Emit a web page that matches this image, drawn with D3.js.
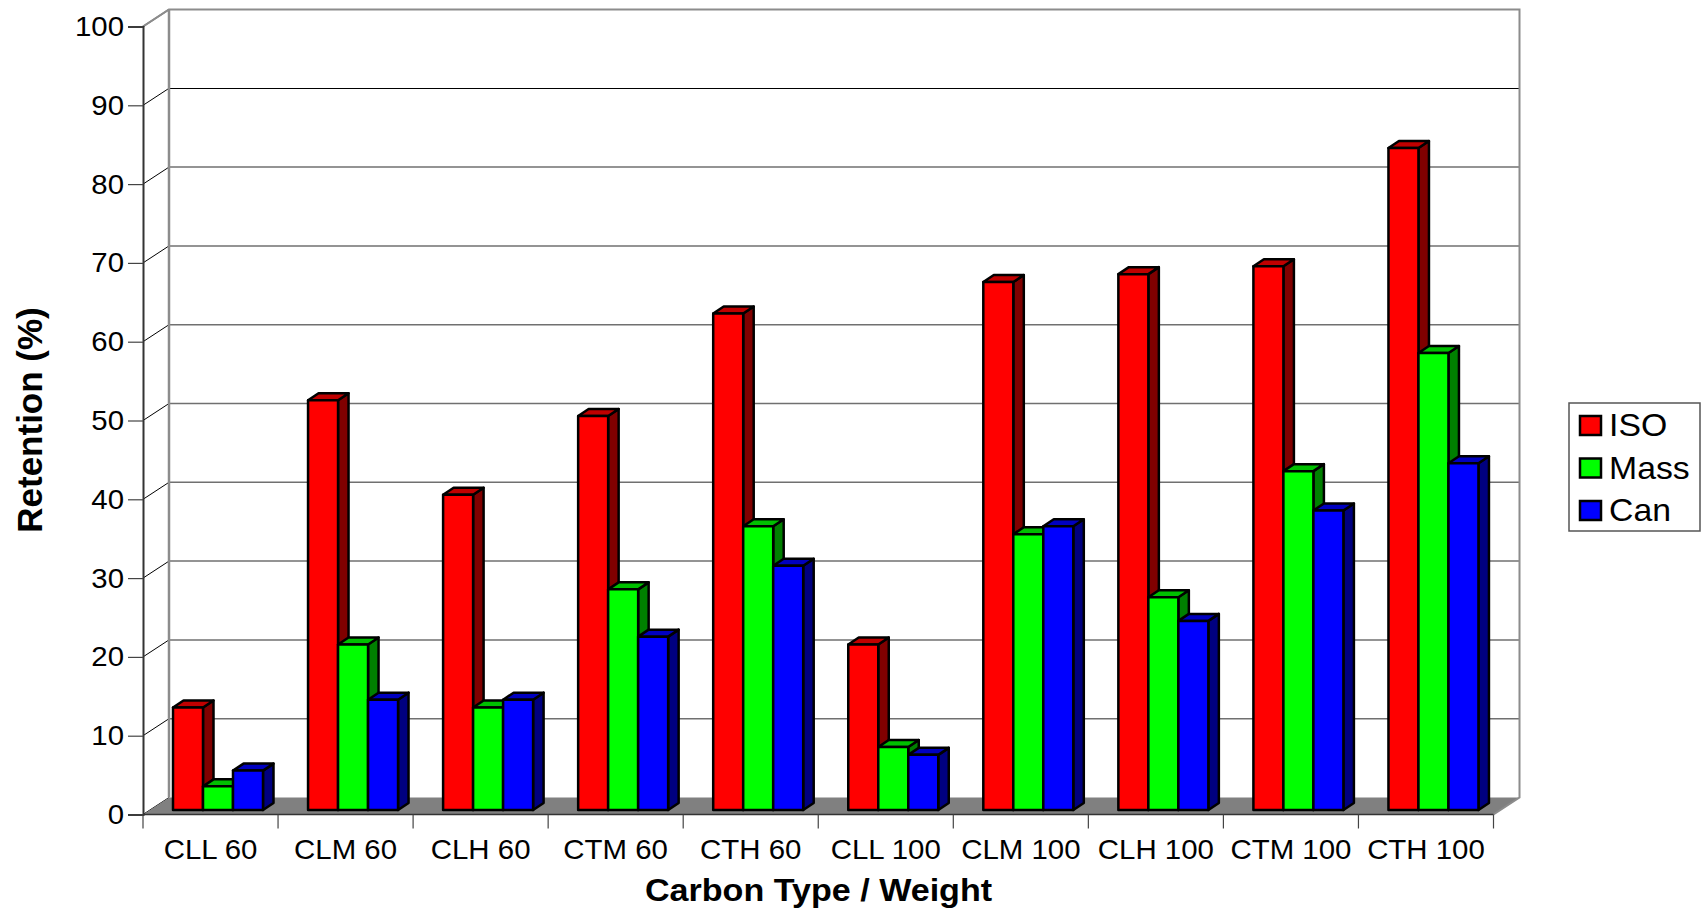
<!DOCTYPE html>
<html>
<head>
<meta charset="utf-8">
<script src="https://cdn.jsdelivr.net/npm/d3@7"></script>
<style>
  html, body { margin: 0; padding: 0; background: #fff; overflow: hidden; }
  text { font-family: "Liberation Sans", Arial, sans-serif; fill: #000; }
</style>
</head>
<body>
<script>
// Values
const categories = ["CLL 60", "CLM 60", "CLH 60", "CTM 60", "CTH 60", "CLL 100", "CLM 100", "CLH 100", "CTM 100", "CTH 100"];
const seriesNames = ["ISO", "Mass", "Can"];
const isoValues = [13, 52, 40, 50, 63, 21, 67, 68, 69, 84];
const massValues = [3, 21, 13, 28, 36, 8, 35, 27, 43, 58];
const canValues = [5, 14, 14, 22, 31, 7, 36, 24, 38, 44];
const yTicks = [0, 10, 20, 30, 40, 50, 60, 70, 80, 90, 100];

const seriesValues = [isoValues, massValues, canValues];
const frontColors = ["#ff0000", "#00ff00", "#0000ff"];
const sideColors = ["#800000", "#008000", "#000080"];
const topColors = ["#c00000", "#00c000", "#0000c0"];

// Frame of the plot
const plotLeft = 143, plotRight = 1493.5, plotBottom = 814.5, plotTop = 26.5;
const wallDx = 26, wallDy = -17;   // depth of the 3d box
const barDx = 10.5, barDy = -7;    // depth of one bar
const baseLift = 4.5;              // bars stand a bit behind the front edge

const svg = d3.select("body").append("svg")
  .attr("width", 1702)
  .attr("height", 911)
  .style("display", "block");

const x = d3.scaleBand().domain(categories).range([plotLeft, plotRight]);
const y = d3.scaleLinear().domain([0, 100]).range([plotBottom, plotTop]);
const x1 = d3.scaleBand().domain(seriesNames).range([30, 120]);

// Back wall and its grid lines
const wall = svg.append("g");
wall.selectAll("line.grid")
  .data(yTicks.filter(d => d > 0 && d < 100))
  .join("line")
  .attr("class", "grid")
  .attr("x1", plotLeft + wallDx)
  .attr("x2", plotRight + wallDx)
  .attr("y1", d => y(d) + wallDy)
  .attr("y2", d => y(d) + wallDy)
  .attr("stroke", d => d === 90 ? "#000" : "#707070")
  .attr("stroke-width", d => d === 90 ? 1 : 1.5)
  .attr("shape-rendering", d => d === 90 ? "crispEdges" : null);

wall.selectAll("line.side")
  .data(yTicks)
  .join("line")
  .attr("class", "side")
  .attr("x1", plotLeft)
  .attr("x2", plotLeft + wallDx)
  .attr("y1", d => y(d))
  .attr("y2", d => y(d) + wallDy)
  .attr("stroke", d => d === 100 ? "#808080" : "#000")
  .attr("stroke-width", d => d === 100 ? 1.5 : 1);

// floor
const floorPoints = [[plotLeft, plotBottom], [plotRight, plotBottom], [plotRight + wallDx, plotBottom + wallDy], [plotLeft + wallDx, plotBottom + wallDy]];
wall.append("path")
  .attr("d", d3.line()(floorPoints) + "Z")
  .attr("fill", "#808080");

// wall outline
const outline = [[plotLeft, plotTop], [plotLeft + wallDx, plotTop + wallDy], [plotRight + wallDx, plotTop + wallDy], [plotRight + wallDx, plotBottom + wallDy], [plotRight, plotBottom]];
wall.append("path")
  .attr("d", d3.line()(outline))
  .attr("fill", "none")
  .attr("stroke", "#8c8c8c")
  .attr("stroke-width", 2);
wall.append("line")
  .attr("x1", plotLeft + wallDx).attr("x2", plotLeft + wallDx)
  .attr("y1", plotTop + wallDy).attr("y2", plotBottom + wallDy)
  .attr("stroke", "#8c8c8c")
  .attr("stroke-width", 2.5);

// Bars
const bars = svg.append("g")
  .attr("stroke", "#000")
  .attr("stroke-width", 2.5)
  .attr("stroke-linejoin", "round");

categories.forEach((cat, i) => {
  seriesNames.forEach((name, s) => {
    const v = seriesValues[s][i];
    const x0 = x(cat) + x1(name);
    const x2 = x0 + x1.bandwidth();
    const yTop = y(v) - baseLift;
    const yBase = plotBottom - baseLift;
    const g = bars.append("g");
    g.append("path")
      .attr("d", d3.line()([[x2, yTop], [x2 + barDx, yTop + barDy], [x2 + barDx, yBase + barDy], [x2, yBase]]) + "Z")
      .attr("fill", sideColors[s]);
    g.append("path")
      .attr("d", d3.line()([[x0, yTop], [x0 + barDx, yTop + barDy], [x2 + barDx, yTop + barDy], [x2, yTop]]) + "Z")
      .attr("fill", topColors[s]);
    g.append("rect")
      .attr("x", x0)
      .attr("y", yTop)
      .attr("width", x2 - x0)
      .attr("height", yBase - yTop)
      .attr("fill", frontColors[s]);
  });
});

// Axes
// The source picture is stretched sideways, so labels get a horizontal scale
const axisY = d3.axisLeft(y).tickValues(yTicks).tickSize(15);
const groupY = svg.append("g").attr("transform", `translate(${plotLeft},0)`).call(axisY);
groupY.selectAll("line").attr("stroke", "#444").attr("stroke-width", 1.2);
groupY.select("path").attr("stroke", "#333").attr("stroke-width", 2);
groupY.selectAll("text")
  .attr("x", 0)
  .attr("transform", "translate(-19,0) scale(1.05,1)")
  .attr("font-size", 28);
groupY.attr("font-family", null).attr("font-size", null);

const groupX = svg.append("g").attr("transform", `translate(0,${plotBottom})`);
groupX.append("line")
  .attr("x1", plotLeft).attr("x2", plotRight)
  .attr("stroke", "#333").attr("stroke-width", 1.5);
const edges = d3.range(categories.length + 1).map(i => plotLeft + i * x.step());
groupX.selectAll("line.cut")
  .data(edges)
  .join("line")
  .attr("class", "cut")
  .attr("x1", d => d).attr("x2", d => d)
  .attr("y1", 0).attr("y2", 14)
  .attr("stroke", "#444").attr("stroke-width", 1.2);
groupX.selectAll("text.cat")
  .data(categories)
  .join("text")
  .attr("class", "cat")
  .attr("transform", d => `translate(${x(d) + x.bandwidth() / 2},44) scale(1.07,1)`)
  .attr("text-anchor", "middle")
  .attr("font-size", 27.5)
  .text(d => d);

// Axis titles
svg.append("text")
  .attr("transform", "translate(818.5,900.5) scale(1.1,1)")
  .attr("text-anchor", "middle")
  .attr("font-size", 31)
  .attr("font-weight", "bold")
  .text("Carbon Type / Weight");

svg.append("text")
  .attr("transform", "translate(41.5,420) rotate(-90)")
  .attr("text-anchor", "middle")
  .attr("font-size", 35)
  .attr("font-weight", "bold")
  .text("Retention (%)");

// Legend
const legend = svg.append("g");
legend.append("rect")
  .attr("x", 1569).attr("y", 403)
  .attr("width", 131).attr("height", 128)
  .attr("fill", "#fff")
  .attr("stroke", "#555")
  .attr("stroke-width", 1.5);
const rows = legend.selectAll("g")
  .data(seriesNames)
  .join("g")
  .attr("transform", (d, i) => `translate(1580,${416 + i * 42.5})`);
rows.append("rect")
  .attr("width", 21).attr("height", 19)
  .attr("fill", (d, i) => frontColors[i])
  .attr("stroke", "#000")
  .attr("stroke-width", 2.5);
rows.append("text")
  .attr("transform", "translate(29,20) scale(1.09,1)")
  .attr("font-size", 31)
  .text(d => d);
</script>
</body>
</html>
